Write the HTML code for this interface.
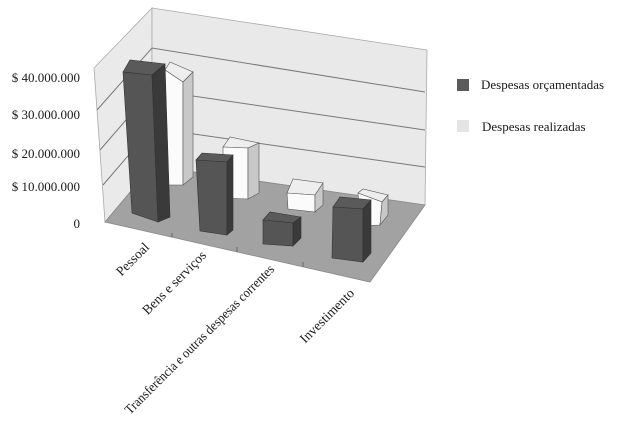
<!DOCTYPE html>
<html><head><meta charset="utf-8"><style>
html,body{margin:0;padding:0;background:#fff;width:617px;height:443px;overflow:hidden}
svg{display:block}
text{font-family:"Liberation Serif",serif;fill:#1a1a1a}
</style></head><body>
<svg width="617" height="443" viewBox="0 0 617 443" xmlns="http://www.w3.org/2000/svg">
<polygon points="94,68 152,8 152,166 105,222" fill="#eaeaea" stroke="#aaa" stroke-width="0.8"/>
<polygon points="152,8 427,50 425,205 152,166" fill="#e9e9e9" stroke="#aaa" stroke-width="0.8"/>
<polygon points="105,222 152,166 425,205 370,282" fill="#a2a2a2" stroke="#888" stroke-width="0.8"/>
<g stroke="#777" stroke-width="1" fill="none">
<polyline points="103,185 152,128 425,167"/>
<polyline points="100,150 152,90 425,130"/>
<polyline points="97,110 152,48 425,92"/>
</g>
<g stroke="#666" stroke-width="1">
<line x1="172" y1="237" x2="172" y2="233"/>
<line x1="237" y1="252" x2="237" y2="247"/>
<line x1="303" y1="267" x2="303" y2="262"/>
</g>
<polygon points="165,70 170,62 193,72 183,82" fill="#eee" stroke="#555" stroke-width="0.6"/>
<polygon points="165,70 183,82 183,185 166,185" fill="#fbfbfb" stroke="#555" stroke-width="0.6"/>
<polygon points="183,82 193,72 193,177 183,185" fill="#c8c8c8" stroke="#555" stroke-width="0.6"/>
<polygon points="123,72 130,60 165,64 152,75" fill="#5a5a5a" stroke="#333" stroke-width="0.6"/>
<polygon points="123,72 152,75 158,222 132,213" fill="#555" stroke="#333" stroke-width="0.6"/>
<polygon points="152,75 165,64 170,217 158,222" fill="#3a3a3a" stroke="#333" stroke-width="0.6"/>
<polygon points="223,147 230,137 259,143 248,148" fill="#eee" stroke="#555" stroke-width="0.6"/>
<polygon points="223,147 248,148 248,199 223,198" fill="#fbfbfb" stroke="#555" stroke-width="0.6"/>
<polygon points="248,148 259,143 259,193 248,199" fill="#c8c8c8" stroke="#555" stroke-width="0.6"/>
<polygon points="196,160 202,153 233,155 227,162" fill="#5a5a5a" stroke="#333" stroke-width="0.6"/>
<polygon points="196,160 227,162 227,235 200,231" fill="#555" stroke="#333" stroke-width="0.6"/>
<polygon points="227,162 233,155 233,230 227,235" fill="#3a3a3a" stroke="#333" stroke-width="0.6"/>
<polygon points="287,193 293,179 323,183 315,195" fill="#eee" stroke="#555" stroke-width="0.6"/>
<polygon points="287,193 315,195 315,212 288,209" fill="#fbfbfb" stroke="#555" stroke-width="0.6"/>
<polygon points="315,195 323,183 323,205 315,212" fill="#c8c8c8" stroke="#555" stroke-width="0.6"/>
<polygon points="263,220 270,212 301,217 293,223" fill="#5a5a5a" stroke="#333" stroke-width="0.6"/>
<polygon points="263,220 293,223 293,246 263,244" fill="#555" stroke="#333" stroke-width="0.6"/>
<polygon points="293,223 301,217 301,238 293,246" fill="#3a3a3a" stroke="#333" stroke-width="0.6"/>
<polygon points="358,193 363,189 388,195 382,202" fill="#eee" stroke="#555" stroke-width="0.6"/>
<polygon points="358,193 382,202 380,225 360,226" fill="#fbfbfb" stroke="#555" stroke-width="0.6"/>
<polygon points="382,202 388,195 388,215 380,225" fill="#c8c8c8" stroke="#555" stroke-width="0.6"/>
<polygon points="333,207 340,197 371,200 363,209" fill="#5a5a5a" stroke="#333" stroke-width="0.6"/>
<polygon points="333,207 363,209 363,262 332,258" fill="#555" stroke="#333" stroke-width="0.6"/>
<polygon points="363,209 371,200 371,253 363,262" fill="#3a3a3a" stroke="#333" stroke-width="0.6"/>
<g font-size="13" text-anchor="end">
<text x="80" y="82">$ 40.000.000</text>
<text x="80" y="119">$ 30.000.000</text>
<text x="80" y="158">$ 20.000.000</text>
<text x="80" y="191">$ 10.000.000</text>
<text x="80" y="228">0</text>
</g>
<g font-size="13.5" text-anchor="end">
<text transform="translate(150,248) rotate(-45)">Pessoal</text>
<text transform="translate(207,256) rotate(-45)">Bens e serviços</text>
<text transform="translate(275,270) rotate(-45)" textLength="205" lengthAdjust="spacingAndGlyphs">Transferência e outras despesas correntes</text>
<text transform="translate(355,294) rotate(-45)">Investimento</text>
</g>
<rect x="457" y="79" width="12" height="12" fill="#5a5a5a"/>
<text x="481" y="89" font-size="13">Despesas orçamentadas</text>
<rect x="457" y="120" width="12" height="12" fill="#e4e4e4"/>
<text x="482" y="131" font-size="13">Despesas realizadas</text>
</svg>
</body></html>
